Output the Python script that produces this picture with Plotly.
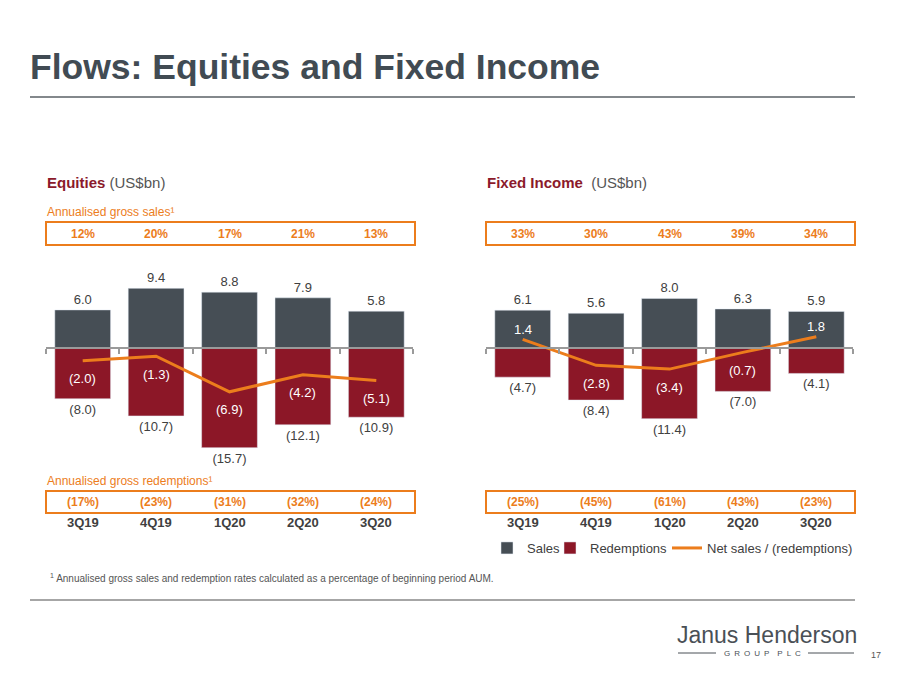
import plotly.graph_objects as go

quarters = ["3Q19", "4Q19", "1Q20", "2Q20", "3Q20"]

eq_sales = [6.0, 9.4, 8.8, 7.9, 5.8]
eq_redemptions = [-8.0, -10.7, -15.7, -12.1, -10.9]
eq_net = [-2.0, -1.3, -6.9, -4.2, -5.1]
eq_sales_rate = ["12%", "20%", "17%", "21%", "13%"]
eq_redemption_rate = ["(17%)", "(23%)", "(31%)", "(32%)", "(24%)"]

fi_sales = [6.1, 5.6, 8.0, 6.3, 5.9]
fi_redemptions = [-4.7, -8.4, -11.4, -7.0, -4.1]
fi_net = [1.4, -2.8, -3.4, -0.7, 1.8]
fi_sales_rate = ["33%", "30%", "43%", "39%", "34%"]
fi_redemption_rate = ["(25%)", "(45%)", "(61%)", "(43%)", "(23%)"]

# page body has an 8px margin; the figure is sized to fit inside the window
OFF = 8
W, H = 900 - 2 * OFF, 675 - 2 * OFF
FONT = "Liberation Sans, Arial, sans-serif"
C_SALES = "#464e55"
C_RED = "#8c1727"
C_ORANGE = "#ec7d1c"
C_TEXT = "#404040"
C_AXIS = "#9a9a9a"


def px(x):
    return (x - OFF) / W


def py(y):
    return 1 - (y - OFF) / H


def fmt(v):
    return f"{v:.1f}" if v >= 0 else f"({abs(v):.1f})"


fig = go.Figure()

panels = [
    dict(xa="x", ya="y", sales=eq_sales, red=eq_redemptions, net=eq_net,
         srate=eq_sales_rate, rrate=eq_redemption_rate,
         xdom=[px(46), px(413)], yrange=[-17.64, 13.86], legend=True),
    dict(xa="x2", ya="y2", sales=fi_sales, red=fi_redemptions, net=fi_net,
         srate=fi_sales_rate, rrate=fi_redemption_rate,
         xdom=[px(486), px(853)], yrange=[-18.06, 14.19], legend=False),
]

ydom = [py(460), py(260)]
annotations = []
shapes = []


def note(x, y, text, size, color, xanchor="left", xref="paper"):
    return dict(x=x, y=y, xref=xref, yref="paper", xanchor=xanchor,
                yanchor="middle", text=text, showarrow=False,
                font=dict(size=size, color=color))


for i, p in enumerate(panels):
    fig.add_trace(go.Bar(
        x=quarters, y=p["sales"], name="Sales", marker_color=C_SALES,
        text=[fmt(v) for v in p["sales"]], textposition="outside",
        textfont=dict(color=C_TEXT, size=13), cliponaxis=False,
        xaxis=p["xa"], yaxis=p["ya"], showlegend=p["legend"], legend="legend"))
    fig.add_trace(go.Bar(
        x=quarters, y=p["red"], name="Redemptions", marker_color=C_RED,
        text=[fmt(v) for v in p["red"]], textposition="outside",
        textfont=dict(color=C_TEXT, size=13), cliponaxis=False,
        xaxis=p["xa"], yaxis=p["ya"], showlegend=p["legend"], legend="legend2"))
    fig.add_trace(go.Scatter(
        x=quarters, y=p["net"], name="Net sales / (redemptions)",
        mode="lines", line=dict(color=C_ORANGE, width=3), cliponaxis=False,
        xaxis=p["xa"], yaxis=p["ya"], showlegend=p["legend"], legend="legend3"))
    # net labels, placed relative to the line points
    for q, v in zip(quarters, p["net"]):
        annotations.append(dict(
            x=q, y=v, xref=p["xa"], yref=p["ya"], text=fmt(v), showarrow=False,
            xanchor="center", yanchor="middle", yshift=10 if v > 0 else -18,
            font=dict(size=13, color="white")))

    r0, r1 = p["yrange"]
    zero_pos = ydom[0] + (0 - r0) / (r1 - r0) * (ydom[1] - ydom[0])
    suffix = "" if i == 0 else "2"
    fig.update_layout(**{
        "xaxis" + suffix: dict(
            domain=p["xdom"], type="category", range=[-0.5, 4.5],
            anchor="free", position=zero_pos,
            showline=True, linecolor=C_AXIS, linewidth=1.5,
            ticks="outside", tickson="boundaries", ticklen=5, tickcolor=C_AXIS,
            tickwidth=1.5, showticklabels=False, showgrid=False, zeroline=False),
        "yaxis" + suffix: dict(
            domain=ydom, range=p["yrange"], visible=False, showgrid=False,
            zeroline=False, anchor=p["xa"]),
    })

    # percentage boxes
    x0, x1 = p["xdom"]
    for (ya, yb) in [(222, 245), (491, 513)]:
        shapes.append(dict(type="rect", xref="paper", yref="paper",
                           x0=x0, x1=x1 + 2 / W, y0=py(yb), y1=py(ya),
                           line=dict(color=C_ORANGE, width=2)))
    for q, s, r in zip(quarters, p["srate"], p["rrate"]):
        annotations.append(note(q, py(234), f"<b>{s}</b>", 12, C_ORANGE,
                                "center", p["xa"]))
        annotations.append(note(q, py(502), f"<b>{r}</b>", 12, C_ORANGE,
                                "center", p["xa"]))
        annotations.append(note(q, py(522), f"<b>{q}</b>", 13, C_TEXT,
                                "center", p["xa"]))

sp = "\u2002"
annotations += [
    note(px(28), py(67), "<b>Flows: Equities and Fixed Income</b>", 35.5, "#414b53"),
    note(px(45), py(183),
         "<b><span style='color:#8b1a2b'>Equities</span></b> (US$bn)", 15, "#555555"),
    note(px(485), py(183),
         "<b><span style='color:#8b1a2b'>Fixed Income</span></b>  (US$bn)", 15, "#555555"),
    note(px(45), py(212), "Annualised gross sales¹", 12, C_ORANGE),
    note(px(45), py(481), "Annualised gross redemptions¹", 12, C_ORANGE),
    note(px(48), py(578),
         "<sup>1</sup> Annualised gross sales and redemption rates calculated as a percentage of beginning period AUM.",
         10, "#555555"),
    note(px(767), py(635), "Janus Henderson", 23, "#4a5056", "center"),
    note(px(762), py(653), sp.join("GROUP") + sp * 2 + sp.join("PLC"), 8,
         "#4a5056", "center"),
    note(px(876), py(655), "17", 9, "#555555", "center"),
]

shapes += [
    dict(type="line", xref="paper", yref="paper", x0=px(30), x1=px(855),
         y0=py(97), y1=py(97), line=dict(color="#83888c", width=2)),
    dict(type="line", xref="paper", yref="paper", x0=px(30), x1=px(855),
         y0=py(600), y1=py(600), line=dict(color="#a6a6a6", width=2)),
    dict(type="line", xref="paper", yref="paper", x0=px(678), x1=px(716),
         y0=py(653), y1=py(653), line=dict(color="#4a5056", width=1)),
    dict(type="line", xref="paper", yref="paper", x0=px(808), x1=px(854),
         y0=py(653), y1=py(653), line=dict(color="#4a5056", width=1)),
]

legend_common = dict(orientation="h", xanchor="left", yanchor="middle",
                     y=py(548), font=dict(size=13, color="#404040"),
                     bgcolor="rgba(0,0,0,0)", itemwidth=30)

fig.update_layout(
    width=W, height=H, margin=dict(l=0, r=0, t=0, b=0),
    paper_bgcolor="white", plot_bgcolor="white",
    barmode="relative", bargap=0.24,
    font=dict(family=FONT, color=C_TEXT),
    showlegend=True,
    legend=dict(x=px(487), **legend_common),
    legend2=dict(x=px(550), **legend_common),
    legend3=dict(x=px(667), **legend_common),
    annotations=annotations, shapes=shapes,
)

fig.write_html("out.html")
